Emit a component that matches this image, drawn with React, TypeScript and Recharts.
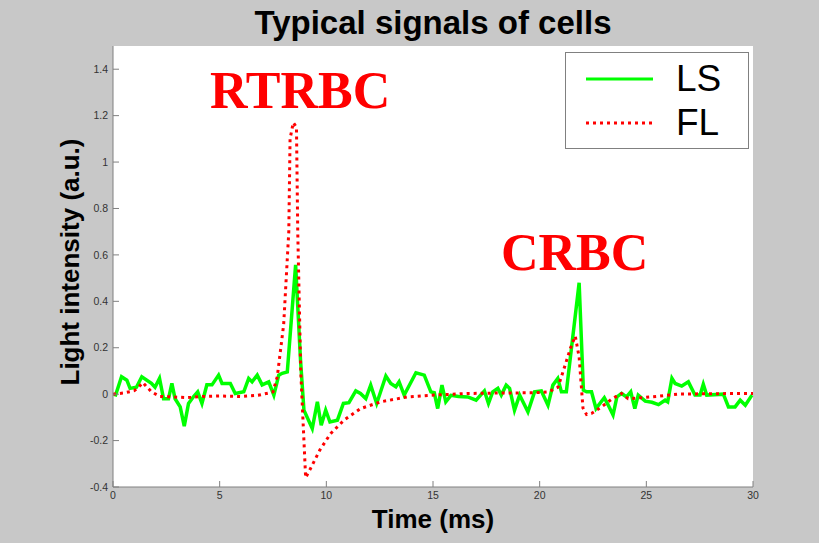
import { CartesianGrid, Legend, Line, LineChart, XAxis, YAxis } from 'recharts'

// LS (light scattering) trace, vertices
const lsTime = [
  0.1, 0.4, 0.65, 0.8, 1.1, 1.35, 1.8, 1.97, 2.18, 2.37, 2.6, 2.76, 2.91, 3.15, 3.34, 3.54, 3.78, 3.97,
  4.17, 4.4, 4.64, 4.95, 5.11, 5.5, 5.73, 6.13, 6.36, 6.52, 6.76, 6.99, 7.3, 7.54, 7.77, 7.93, 8.17,
  8.56, 8.79, 8.95, 9.34, 9.58, 9.76, 9.97, 10.17, 10.52, 10.8, 11.06, 11.38, 11.6, 11.85, 12.08,
  12.36, 12.79, 13.02, 13.26, 13.41, 13.65, 14.2, 14.59, 14.9, 15.06, 15.22, 15.42, 15.6, 15.84, 16.2,
  16.63, 17.02, 17.41, 17.6, 17.8, 18.04, 18.2, 18.43, 18.59, 18.82, 19.06, 19.45, 19.76, 20.08,
  20.39, 20.62, 20.85, 21.02, 21.25, 21.85, 22.05, 22.2, 22.43, 22.64, 23.03, 23.2, 23.44, 23.62,
  23.84, 24.07, 24.27, 24.46, 24.62, 24.95, 25.26, 25.57, 25.88, 26.0, 26.2, 26.35, 26.66, 26.97,
  27.28, 27.52, 27.67, 27.83, 28.61, 28.85, 29.16, 29.4, 29.64, 29.95
]
const lsValues = [
  -0.01, 0.075, 0.06, 0.025, 0.03, 0.075, 0.047, 0.03, 0.068, -0.02, -0.02, 0.046, -0.02, -0.055,
  -0.138, -0.04, -0.01, 0.01, -0.04, 0.04, 0.04, 0.082, 0.046, 0.046, 0.003, 0.01, 0.068, 0.053,
  0.082, 0.04, 0.053, -0.004, 0.082, 0.09, 0.096, 0.557, 0.147, -0.069, -0.148, -0.033, -0.134,
  -0.069, -0.12, -0.112, -0.04, -0.037, 0.014, 0.003, -0.019, 0.039, -0.04, 0.078, 0.046, 0.032,
  0.053, -0.004, 0.092, 0.082, 0.01, 0.006, -0.062, 0.039, -0.033, -0.005, -0.01, -0.012, -0.026,
  0.014, -0.04, 0.01, 0.025, -0.004, 0.039, 0.025, -0.069, -0.004, -0.076, 0.01, 0.014, -0.048,
  0.039, 0.068, 0.01, 0.01, 0.48, 0.017, 0.01, 0.01, -0.062, -0.015, -0.045, -0.09, -0.012, 0.003,
  -0.012, 0.01, -0.062, -0.004, -0.03, -0.035, -0.045, -0.026, -0.033, 0.068, 0.046, 0.035, 0.053,
  -0.004, -0.004, 0.043, -0.004, 0.0, -0.055, -0.055, -0.026, -0.048, -0.004
]

// FL (fluorescence) trace
const flTime = [
  0, 0.5, 1.0, 1.2, 1.4, 1.6, 1.8, 2.2, 2.8, 3.5, 4.2, 5.0, 6.0, 6.8, 7.3, 7.5, 7.7, 8.0, 8.24,
  8.3, 8.45, 8.6, 8.66, 8.8, 9.03, 9.26, 9.7, 10.2, 10.83, 11.61, 12.55, 13.8, 15.06, 16.63, 18.2,
  19.76, 20.4, 20.86, 21.17, 21.45, 21.67, 21.85, 22.03, 22.2, 22.43, 22.9, 23.4, 23.84, 24.15,
  24.78, 25.56, 26.5, 28, 30
]
const flValues = [
  0, 0.005, 0.015, 0.03, 0.05, 0.03, 0.01, -0.01, -0.012, -0.015, -0.01, -0.008, -0.01, -0.005,
  0.005, 0.01, 0.075, 0.3, 0.7, 1.1, 1.17, 1.15, 0.7, 0.1, -0.36, -0.32, -0.24, -0.17, -0.112,
  -0.062, -0.033, -0.012, -0.004, 0.003, 0.005, 0.006, 0.01, 0.03, 0.118, 0.2, 0.25, 0.16, -0.06,
  -0.088, -0.083, -0.055, -0.02, 0.003, -0.02, -0.015, -0.009, 0.0, 0.002, 0.003
]

const seriesNames = ['LS', 'FL']
const xTicks = [0, 5, 10, 15, 20, 25, 30]
const yTicks = [-0.4, -0.2, 0, 0.2, 0.4, 0.6, 0.8, 1, 1.2, 1.4]

const lsData = lsTime.map((t, i) => ({ t, v: lsValues[i] }))
const flData = flTime.map((t, i) => ({ t, v: flValues[i] }))

const axisGray = '#808080'
const tickStyle = { fontFamily: 'Liberation Sans', fontSize: 10.5, fill: '#333' }
const boldSans = { fontFamily: 'Liberation Sans', fontWeight: 700, color: '#000' }
const redSerif = {
  fontFamily: 'Liberation Serif',
  fontWeight: 700,
  fontSize: 52,
  lineHeight: 1,
  color: '#ff0000'
}

function LegendBox({ payload }: any) {
  const items = [...(payload || [])].sort(
    (a: any, b: any) => seriesNames.indexOf(a.value) - seriesNames.indexOf(b.value)
  )
  return (
    <svg width={184} height={97} style={{ display: 'block' }}>
      <rect x={0.5} y={0.5} width={183} height={96} fill="#fff" stroke={axisGray} />
      {items.map((entry: any, i: number) => {
        const y = 27 + i * 44
        return (
          <g key={entry.value}>
            <line
              x1={21}
              x2={88}
              y1={y}
              y2={y}
              stroke={entry.color}
              strokeWidth={3}
              strokeDasharray={entry.value === 'FL' ? '3 4' : undefined}
            />
            <text x={111} y={y + 12} fontFamily="Liberation Sans" fontSize={37} fill="#000">
              {entry.value}
            </text>
          </g>
        )
      })}
    </svg>
  )
}

export default function App() {
  return (
    <div style={{ position: 'absolute', left: 0, top: 0, width: 819, height: 543, background: '#c8c8c8' }}>
      <LineChart width={819} height={543} margin={{ top: 46, right: 66, left: 53, bottom: 26 }}>
        <CartesianGrid fill="#fff" horizontal={false} vertical={false} />
        <XAxis
          dataKey="t"
          type="number"
          domain={[0, 30]}
          ticks={xTicks}
          interval={0}
          height={30}
          tickSize={-6}
          tickMargin={11}
          stroke={axisGray}
          tick={tickStyle}
        />
        <XAxis
          xAxisId="top"
          dataKey="t"
          type="number"
          orientation="top"
          domain={[0, 30]}
          ticks={xTicks}
          interval={0}
          height={0}
          tickSize={-6}
          tick={false}
          stroke={axisGray}
        />
        <YAxis
          type="number"
          domain={[-0.4, 1.5]}
          ticks={yTicks}
          interval={0}
          width={60}
          tickSize={-6}
          tickMargin={11}
          stroke={axisGray}
          tick={tickStyle}
        />
        <YAxis
          yAxisId="right"
          type="number"
          orientation="right"
          domain={[-0.4, 1.5]}
          ticks={yTicks}
          interval={0}
          width={0}
          tickSize={-6}
          tick={false}
          stroke={axisGray}
        />
        <Legend
          layout="vertical"
          align="center"
          verticalAlign="middle"
          width={184}
          height={97}
          wrapperStyle={{ left: 565, top: 52 }}
          content={<LegendBox />}
        />
        <Line
          data={lsData}
          dataKey="v"
          name="LS"
          type="linear"
          stroke="#00ff00"
          strokeWidth={3.5}
          dot={false}
          isAnimationActive={false}
        />
        <Line
          data={flData}
          dataKey="v"
          name="FL"
          type="linear"
          stroke="#ff0000"
          strokeWidth={3}
          strokeDasharray="3 4"
          dot={false}
          isAnimationActive={false}
        />
      </LineChart>

      <div style={{ ...boldSans, position: 'absolute', left: 113, width: 640, top: 6, fontSize: 33, lineHeight: 1, textAlign: 'center' }}>
        Typical signals of cells
      </div>
      <div style={{ ...boldSans, position: 'absolute', left: 113, width: 640, top: 506, fontSize: 26, lineHeight: 1, textAlign: 'center' }}>
        Time (ms)
      </div>
      <div
        style={{
          ...boldSans,
          position: 'absolute',
          left: 70,
          top: 262,
          fontSize: 26,
          lineHeight: 1,
          whiteSpace: 'nowrap',
          transform: 'translate(-50%, -50%) rotate(-90deg)'
        }}
      >
        Light intensity (a.u.)
      </div>
      <div style={{ ...redSerif, position: 'absolute', left: 210, top: 65 }}>RTRBC</div>
      <div style={{ ...redSerif, position: 'absolute', left: 501, top: 227 }}>CRBC</div>
    </div>
  )
}
